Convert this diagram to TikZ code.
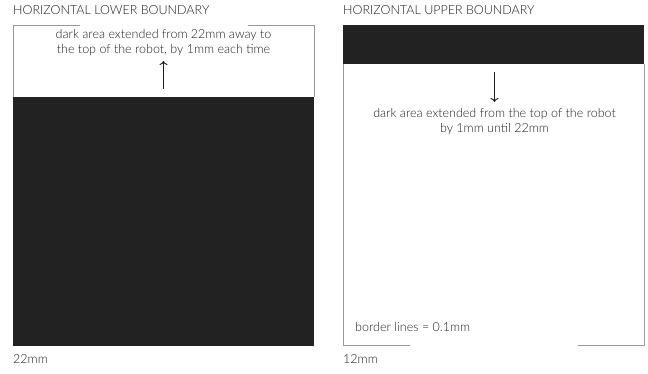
\documentclass[tikz,border=0pt]{standalone}
\usepackage{fontspec}
\setmainfont{Lato Light}
\usetikzlibrary{arrows.meta}
\definecolor{darkfill}{HTML}{222222}
\definecolor{borderg}{HTML}{9A9A9A}
\definecolor{txt}{HTML}{1E1E1E}
\begin{document}
\begin{tikzpicture}[x=1pt,y=-1pt,
  border/.style={draw=borderg,line width=0.9pt},
  dark/.style={fill=darkfill},
  lbl/.style={inner sep=0pt,text=txt,font=\fontsize{12.5}{15}\selectfont},
  body/.style={lbl,align=center},
  arr/.style={-{To[length=4pt,width=8pt]},line width=0.9pt,draw=txt}]
\useasboundingbox (0,0) rectangle (648,374);
% left panel
\fill[dark] (13,97) rectangle (314,346);
\draw[border] (80,25) -- (13,25) -- (13,97);
\draw[border] (248,25) -- (314,25) -- (314,97);
\node[lbl,anchor=base west] (t1) at (13,15) {HORIZONTAL LOWER BOUNDARY};
\node[body] (d1) at (163.5,43) {dark area extended from 22mm away to\\the top of the robot, by 1mm each time};
\coordinate (a1s) at (163.5,89);
\coordinate (a1e) at (163.5,61);
\draw[arr] (a1s) -- (a1e);
\node[lbl,anchor=base west] (m1) at (13,363) {22mm};
% right panel
\fill[dark] (343,25) rectangle (644,64);
\draw[border] (343,64) -- (343,345) -- (410,345);
\draw[border] (578,345) -- (644,345) -- (644,64);
\node[lbl,anchor=base west] (t2) at (343,15) {HORIZONTAL UPPER BOUNDARY};
\coordinate (a2s) at (494.5,72);
\coordinate (a2e) at (494.5,102);
\draw[arr] (a2s) -- (a2e);
\node[body] (d2) at (494.5,121.5) {dark area extended from the top of the robot\\by 1mm until 22mm};
\node[lbl,anchor=base west] (b2) at (355,331) {border lines = 0.1mm};
\node[lbl,anchor=base west] (m2) at (343,363) {12mm};
\end{tikzpicture}
\end{document}
